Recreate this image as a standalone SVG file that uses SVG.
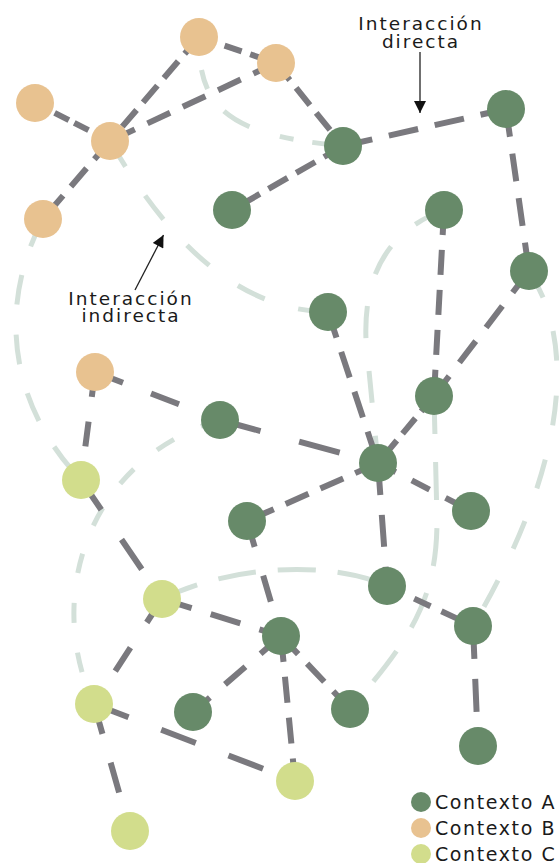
<svg xmlns="http://www.w3.org/2000/svg" width="559" height="863" viewBox="0 0 559 863">
<defs>
<style>
.e{stroke:#7a797e;stroke-width:6;fill:none}
.i{stroke:#d3e0d9;stroke-width:5;fill:none}
.a{fill:#678a69}
.b{fill:#e8c290}
.c{fill:#d2dd8c}
.t{font-family:"DejaVu Sans",sans-serif;font-size:18.5px;fill:#1a1a1a;letter-spacing:2px}
.l{font-family:"DejaVu Sans",sans-serif;font-size:19px;fill:#1a1a1a;letter-spacing:1.6px}
.p{stroke:#222;stroke-width:1.3;fill:none}
</style>
<marker id="ah" viewBox="0 0 10 10" refX="10" refY="5" markerWidth="9" markerHeight="9" markerUnits="userSpaceOnUse" orient="auto"><path d="M0,0 L10,5 L0,10 z" fill="#111"/></marker>
<marker id="ah2" viewBox="0 0 12 12" refX="12" refY="6" markerWidth="13" markerHeight="12" markerUnits="userSpaceOnUse" orient="auto"><path d="M0,0 L12,6 L0,12 z" fill="#111"/></marker>
</defs>
<g id="indirect">
<path class="i" d="M199,37 C198,110 230,135 343,146" stroke-dasharray="14 19 20 28 30 32"/>
<path class="i" d="M110,141 C150,210 220,310 328,312" stroke-dasharray="30 35"/>
<path class="i" d="M43,219 C0,300 5,400 81,480" stroke-dasharray="30 30"/>
<path class="i" d="M220,420 C85,460 45,600 94,704" stroke-dasharray="20 30"/>
<path class="i" d="M162,599 C230,565 330,560 387,586" stroke-dasharray="38 22"/>
<path class="i" d="M444,210 Q362,240 366,340 L378,463" stroke-dasharray="32 33"/>
<path class="i" d="M434,396 L437,520 C437,600 410,640 350,709" stroke-dasharray="38 28"/>
<path class="i" d="M529,271 C575,340 570,460 473,626" stroke-dasharray="30 35"/>
</g>
<g id="connectors">
<line class="e" x1="199" y1="37" x2="110" y2="141" stroke-dasharray="22 10"/>
<line class="e" x1="199" y1="37" x2="276" y2="63" stroke-dasharray="18 9"/>
<line class="e" x1="276" y1="63" x2="110" y2="141" stroke-dasharray="25 14"/>
<line class="e" x1="35" y1="103" x2="110" y2="141" stroke-dasharray="16 6"/>
<line class="e" x1="110" y1="141" x2="43" y2="219" stroke-dasharray="24 12"/>
<line class="e" x1="276" y1="63" x2="343" y2="146" stroke-dasharray="22 10"/>
<line class="e" x1="343" y1="146" x2="232" y2="210" stroke-dasharray="22 10"/>
<line class="e" x1="343" y1="146" x2="506" y2="109" stroke-dasharray="30 17"/>
<line class="e" x1="506" y1="109" x2="529" y2="271" stroke-dasharray="28 17"/>
<line class="e" x1="529" y1="271" x2="434" y2="396" stroke-dasharray="27 17"/>
<line class="e" x1="444" y1="210" x2="434" y2="396" stroke-dasharray="25 15"/>
<line class="e" x1="328" y1="312" x2="378" y2="463" stroke-dasharray="27 15"/>
<line class="e" x1="434" y1="396" x2="378" y2="463" stroke-dasharray="20 9"/>
<line class="e" x1="95" y1="372" x2="220" y2="420" stroke-dasharray="30 30"/>
<line class="e" x1="220" y1="420" x2="378" y2="463" stroke-dasharray="42 40"/>
<line class="e" x1="378" y1="463" x2="247" y2="521" stroke-dasharray="25 13"/>
<line class="e" x1="378" y1="463" x2="471" y2="511" stroke-dasharray="20 18"/>
<line class="e" x1="378" y1="463" x2="387" y2="586" stroke-dasharray="32 20"/>
<line class="e" x1="387" y1="586" x2="473" y2="626" stroke-dasharray="18 12"/>
<line class="e" x1="473" y1="626" x2="478" y2="746" stroke-dasharray="33 20"/>
<line class="e" x1="95" y1="372" x2="81" y2="480" stroke-dasharray="25 25"/>
<line class="e" x1="81" y1="480" x2="162" y2="599" stroke-dasharray="36 36"/>
<line class="e" x1="162" y1="599" x2="281" y2="636" stroke-dasharray="31 20"/>
<line class="e" x1="162" y1="599" x2="94" y2="704" stroke-dasharray="28 30"/>
<line class="e" x1="247" y1="521" x2="281" y2="636" stroke-dasharray="27 30"/>
<line class="e" x1="281" y1="636" x2="193" y2="712" stroke-dasharray="27 20"/>
<line class="e" x1="281" y1="636" x2="350" y2="709" stroke-dasharray="25 13"/>
<line class="e" x1="281" y1="636" x2="295" y2="781" stroke-dasharray="26 15"/>
<line class="e" x1="94" y1="704" x2="295" y2="781" stroke-dasharray="37 35"/>
<line class="e" x1="94" y1="704" x2="130" y2="831" stroke-dasharray="31 30"/>
</g>
<g id="o1"><circle class="b" cx="199" cy="37" r="19"/></g>
<g id="o2"><circle class="b" cx="276" cy="63" r="19"/></g>
<g id="o3"><circle class="b" cx="35" cy="103" r="19"/></g>
<g id="o4"><circle class="b" cx="110" cy="141" r="19"/></g>
<g id="o5"><circle class="b" cx="43" cy="219" r="19"/></g>
<g id="o6"><circle class="b" cx="95" cy="372" r="19"/></g>
<g id="g1"><circle class="a" cx="343" cy="146" r="19"/></g>
<g id="g2"><circle class="a" cx="506" cy="109" r="19"/></g>
<g id="g3"><circle class="a" cx="232" cy="210" r="19"/></g>
<g id="g4"><circle class="a" cx="444" cy="210" r="19"/></g>
<g id="g5"><circle class="a" cx="529" cy="271" r="19"/></g>
<g id="g6"><circle class="a" cx="328" cy="312" r="19"/></g>
<g id="g7"><circle class="a" cx="434" cy="396" r="19"/></g>
<g id="g8"><circle class="a" cx="220" cy="420" r="19"/></g>
<g id="g9"><circle class="a" cx="378" cy="463" r="19"/></g>
<g id="g10"><circle class="a" cx="471" cy="511" r="19"/></g>
<g id="g11"><circle class="a" cx="247" cy="521" r="19"/></g>
<g id="g12"><circle class="a" cx="387" cy="586" r="19"/></g>
<g id="g13"><circle class="a" cx="473" cy="626" r="19"/></g>
<g id="g14"><circle class="a" cx="281" cy="636" r="19"/></g>
<g id="g15"><circle class="a" cx="193" cy="712" r="19"/></g>
<g id="g16"><circle class="a" cx="350" cy="709" r="19"/></g>
<g id="g17"><circle class="a" cx="478" cy="746" r="19"/></g>
<g id="c1"><circle class="c" cx="81" cy="480" r="19"/></g>
<g id="c2"><circle class="c" cx="162" cy="599" r="19"/></g>
<g id="c3"><circle class="c" cx="94" cy="704" r="19"/></g>
<g id="c4"><circle class="c" cx="295" cy="781" r="19"/></g>
<g id="c5"><circle class="c" cx="130" cy="831" r="19"/></g>
<g id="label-direct">
<text class="t" x="421" y="30" text-anchor="middle">Interacción</text>
<text class="t" x="421" y="47.5" text-anchor="middle">directa</text>
<line class="p" x1="420" y1="52" x2="420" y2="113" marker-end="url(#ah2)"/>
</g>
<g id="label-indirect">
<text class="t" x="131" y="305" text-anchor="middle">Interacción</text>
<text class="t" x="131" y="322" text-anchor="middle">indirecta</text>
<line class="p" x1="135" y1="290" x2="163.5" y2="235" marker-end="url(#ah2)"/>
</g>
<g id="legend">
<circle class="a" cx="421" cy="802" r="10"/>
<circle class="b" cx="421" cy="828" r="10"/>
<circle class="c" cx="421" cy="854" r="10"/>
<text class="l" x="435" y="808.5">Contexto A</text>
<text class="l" x="435" y="835">Contexto B</text>
<text class="l" x="435" y="861">Contexto C</text>
</g>
</svg>
